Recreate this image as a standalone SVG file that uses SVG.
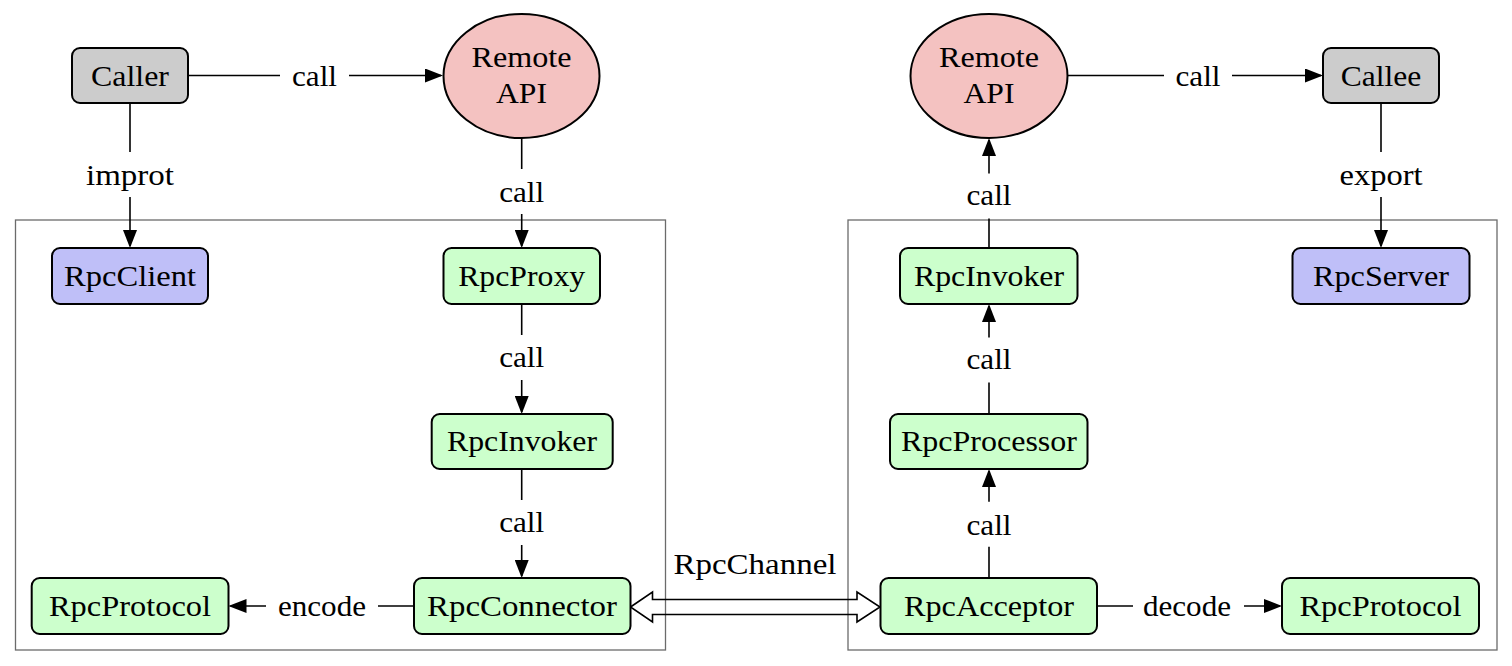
<svg xmlns="http://www.w3.org/2000/svg" width="1512" height="666" viewBox="0 0 1512 666">
<defs>
<marker id="ah" viewBox="0 0 18 14" refX="16" refY="7" markerWidth="18" markerHeight="14" markerUnits="userSpaceOnUse" orient="auto">
<path d="M0,0 L18,7 L0,14 Z" fill="#000"/>
</marker>
<style>
text{font-family:"Liberation Serif","Times New Roman",serif;font-size:30px;fill:#000;text-anchor:middle}
.box{stroke:#000;stroke-width:2}
.gray{fill:#cccccc}
.green{fill:#ccffcc}
.blue{fill:#bfbff8}
.pink{fill:#f4c2c1}
.cont{fill:none;stroke:#6b6b6b;stroke-width:1.3}
.ln{fill:none;stroke:#000;stroke-width:1.6}
.arr{marker-end:url(#ah)}
</style>
</defs>
<rect width="1512" height="666" fill="#fff"/>
<g id="containers">
<rect class="cont" x="15.5" y="220" width="650" height="430"/>
<rect class="cont" x="848" y="220" width="649" height="430"/>
</g>
<g id="connectors">
<line class="ln" x1="188" y1="75.5" x2="280" y2="75.5"/>
<line class="ln arr" x1="349" y1="75.5" x2="441" y2="75.5"/>
<text x="314.5" y="85.5" textLength="45" lengthAdjust="spacingAndGlyphs">call</text>
<line class="ln" x1="130" y1="103" x2="130" y2="152"/>
<line class="ln arr" x1="130" y1="197" x2="130" y2="246"/>
<text x="130" y="185" textLength="88" lengthAdjust="spacingAndGlyphs">improt</text>
<line class="ln" x1="521.7" y1="138" x2="521.7" y2="169"/>
<line class="ln arr" x1="521.7" y1="214" x2="521.7" y2="246"/>
<text x="521.7" y="201.5" textLength="45" lengthAdjust="spacingAndGlyphs">call</text>
<line class="ln" x1="521.7" y1="304" x2="521.7" y2="335"/>
<line class="ln arr" x1="521.7" y1="380" x2="521.7" y2="412"/>
<text x="521.7" y="367" textLength="45" lengthAdjust="spacingAndGlyphs">call</text>
<line class="ln" x1="521.7" y1="469" x2="521.7" y2="500"/>
<line class="ln arr" x1="521.7" y1="545" x2="521.7" y2="576"/>
<text x="521.7" y="532" textLength="45" lengthAdjust="spacingAndGlyphs">call</text>
<line class="ln" x1="414" y1="606" x2="378" y2="606"/>
<line class="ln arr" x1="266" y1="606" x2="230.5" y2="606"/>
<text x="322" y="616" textLength="88" lengthAdjust="spacingAndGlyphs">encode</text>
<path class="ln" d="M630.5,607 L652.5,592 L652.5,599.5 L857,599.5 L857,592 L880,607 L857,622 L857,614.5 L652.5,614.5 L652.5,622 Z"/>
<text x="755" y="574" textLength="163" lengthAdjust="spacingAndGlyphs">RpcChannel</text>
<line class="ln" x1="1068" y1="75.5" x2="1164" y2="75.5"/>
<line class="ln arr" x1="1232" y1="75.5" x2="1321" y2="75.5"/>
<text x="1198" y="85.5" textLength="45" lengthAdjust="spacingAndGlyphs">call</text>
<line class="ln" x1="1381" y1="103" x2="1381" y2="152"/>
<line class="ln arr" x1="1381" y1="197" x2="1381" y2="246"/>
<text x="1381" y="185" textLength="83" lengthAdjust="spacingAndGlyphs">export</text>
<line class="ln" x1="989" y1="248" x2="989" y2="218.5"/>
<line class="ln arr" x1="989" y1="173.5" x2="989" y2="140"/>
<text x="989" y="205" textLength="45" lengthAdjust="spacingAndGlyphs">call</text>
<line class="ln" x1="989" y1="414" x2="989" y2="382.5"/>
<line class="ln arr" x1="989" y1="337.5" x2="989" y2="306"/>
<text x="989" y="369" textLength="45" lengthAdjust="spacingAndGlyphs">call</text>
<line class="ln" x1="989" y1="578" x2="989" y2="546.7"/>
<line class="ln arr" x1="989" y1="501.7" x2="989" y2="471"/>
<text x="989" y="535" textLength="45" lengthAdjust="spacingAndGlyphs">call</text>
<line class="ln" x1="1097" y1="606" x2="1133" y2="606"/>
<line class="ln arr" x1="1244" y1="606" x2="1280" y2="606"/>
<text x="1187" y="616" textLength="88" lengthAdjust="spacingAndGlyphs">decode</text>
</g>
<g id="caller">
<rect class="box gray" x="72" y="48" width="116" height="55" rx="8"/>
<text x="130" y="85.5" textLength="78" lengthAdjust="spacingAndGlyphs">Caller</text>
</g>
<g id="remote-api-left">
<ellipse class="box pink" cx="521.5" cy="76" rx="78" ry="62"/>
<text x="521.5" y="67" textLength="100" lengthAdjust="spacingAndGlyphs">Remote</text>
<text x="521.5" y="102.5" textLength="51" lengthAdjust="spacingAndGlyphs">API</text>
</g>
<g id="rpcclient">
<rect class="box blue" x="52" y="248" width="156" height="56" rx="8"/>
<text x="130" y="286" textLength="132" lengthAdjust="spacingAndGlyphs">RpcClient</text>
</g>
<g id="rpcproxy">
<rect class="box green" x="443.5" y="248" width="156.5" height="56" rx="8"/>
<text x="521.7" y="286" textLength="127" lengthAdjust="spacingAndGlyphs">RpcProxy</text>
</g>
<g id="rpcinvoker-left">
<rect class="box green" x="431.7" y="414" width="181" height="55" rx="8"/>
<text x="522" y="450.5" textLength="150" lengthAdjust="spacingAndGlyphs">RpcInvoker</text>
</g>
<g id="rpcconnector">
<rect class="box green" x="414" y="578" width="216.5" height="56" rx="8"/>
<text x="522" y="616" textLength="190" lengthAdjust="spacingAndGlyphs">RpcConnector</text>
</g>
<g id="rpcprotocol-left">
<rect class="box green" x="31.7" y="578" width="196.8" height="56" rx="8"/>
<text x="130" y="616" textLength="162" lengthAdjust="spacingAndGlyphs">RpcProtocol</text>
</g>
<g id="remote-api-right">
<ellipse class="box pink" cx="989" cy="76" rx="78.5" ry="62"/>
<text x="989" y="67" textLength="100" lengthAdjust="spacingAndGlyphs">Remote</text>
<text x="989" y="102.5" textLength="51" lengthAdjust="spacingAndGlyphs">API</text>
</g>
<g id="callee">
<rect class="box gray" x="1323" y="48" width="116" height="55" rx="8"/>
<text x="1381" y="85.5" textLength="80.5" lengthAdjust="spacingAndGlyphs">Callee</text>
</g>
<g id="rpcinvoker-right">
<rect class="box green" x="900" y="248" width="177.5" height="56" rx="8"/>
<text x="989" y="286" textLength="150" lengthAdjust="spacingAndGlyphs">RpcInvoker</text>
</g>
<g id="rpcserver">
<rect class="box blue" x="1292.5" y="248" width="177" height="56" rx="8"/>
<text x="1381" y="286" textLength="136" lengthAdjust="spacingAndGlyphs">RpcServer</text>
</g>
<g id="rpcprocessor">
<rect class="box green" x="890" y="414" width="197.5" height="55" rx="8"/>
<text x="989" y="450.5" textLength="176" lengthAdjust="spacingAndGlyphs">RpcProcessor</text>
</g>
<g id="rpcacceptor">
<rect class="box green" x="880.5" y="578" width="216.5" height="56" rx="8"/>
<text x="989" y="616" textLength="170" lengthAdjust="spacingAndGlyphs">RpcAcceptor</text>
</g>
<g id="rpcprotocol-right">
<rect class="box green" x="1282" y="578" width="197" height="56" rx="8"/>
<text x="1380.5" y="616" textLength="162" lengthAdjust="spacingAndGlyphs">RpcProtocol</text>
</g>
</svg>
